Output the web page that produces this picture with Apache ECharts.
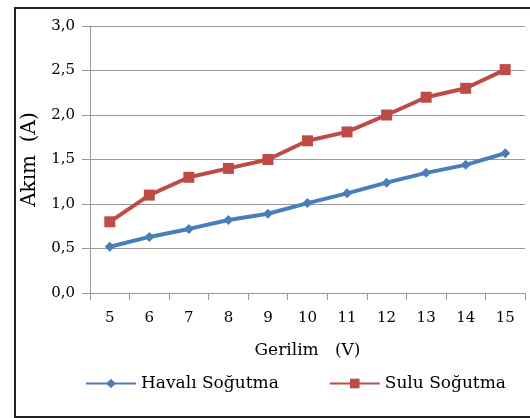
<!DOCTYPE html>
<html>
<head>
<meta charset="utf-8">
<script src="https://cdn.jsdelivr.net/npm/echarts@6/dist/echarts.min.js"></script>
<style>
  body { margin: 0; background: #fff; }
  #wrap { position: relative; width: 530px; height: 418px; overflow: hidden; }
  #chart { position: absolute; left: 0; top: 0; width: 530px; height: 418px; }
  #frame { position: absolute; left: 14px; top: 7px; width: 600px; height: 411px; border: 2px solid #222; box-sizing: border-box; }
</style>
</head>
<body>
<div id="wrap">
  <div id="frame"></div>
  <div id="chart"></div>
</div>
<script>
var voltages = ["5", "6", "7", "8", "9", "10", "11", "12", "13", "14", "15"];
var havaliSogutma = [0.52, 0.63, 0.72, 0.82, 0.89, 1.01, 1.12, 1.24, 1.35, 1.44, 1.57];
var suluSogutma = [0.80, 1.10, 1.30, 1.40, 1.50, 1.71, 1.81, 2.00, 2.20, 2.30, 2.51];

var FONT = "DejaVu Serif";

var myChart = echarts.init(document.getElementById("chart"), null, { renderer: "canvas" });

var option = {
  animation: false,
  textStyle: { fontFamily: FONT },
  grid: { left: 90, right: 5, top: 26, bottom: 125 },
  legend: {
    top: 375,
    left: 85,
    padding: 0,
    itemWidth: 50,
    itemHeight: 12,
    itemGap: 50,
    textStyle: { fontFamily: FONT, fontSize: 17, color: "#000" },
    data: ["Havalı Soğutma", "Sulu Soğutma"]
  },
  xAxis: {
    type: "category",
    data: voltages,
    boundaryGap: true,
    name: "Gerilim   (V)",
    nameLocation: "middle",
    nameGap: 49,
    nameTextStyle: { fontFamily: FONT, fontSize: 17, color: "#000" },
    axisLine: { lineStyle: { color: "#999", width: 1 } },
    axisTick: { show: true, length: 7, lineStyle: { color: "#999" } },
    axisLabel: { fontFamily: FONT, fontSize: 15, color: "#000", margin: 18 }
  },
  yAxis: {
    type: "value",
    min: 0,
    max: 3,
    interval: 0.5,
    name: "Akım  (A)",
    nameLocation: "middle",
    nameGap: 49,
    nameTextStyle: { fontFamily: FONT, fontSize: 20, color: "#000" },
    axisLine: { show: true, lineStyle: { color: "#999", width: 1 } },
    axisTick: { show: true, length: 8, lineStyle: { color: "#999" } },
    splitLine: { lineStyle: { color: "#999", width: 1 } },
    axisLabel: {
      fontFamily: FONT,
      fontSize: 15,
      color: "#000",
      margin: 15,
      formatter: function (v) { return v.toFixed(1).replace(".", ","); }
    }
  },
  series: [
    {
      name: "Havalı Soğutma",
      type: "line",
      data: havaliSogutma,
      symbol: "diamond",
      symbolSize: 10,
      itemStyle: { color: "#4a7ebb" },
      lineStyle: { color: "#4a7ebb", width: 4 }
    },
    {
      name: "Sulu Soğutma",
      type: "line",
      data: suluSogutma,
      symbol: "rect",
      symbolSize: 11,
      itemStyle: { color: "#be4b48" },
      lineStyle: { color: "#be4b48", width: 4 }
    }
  ]
};

myChart.setOption(option);
</script>
</body>
</html>
